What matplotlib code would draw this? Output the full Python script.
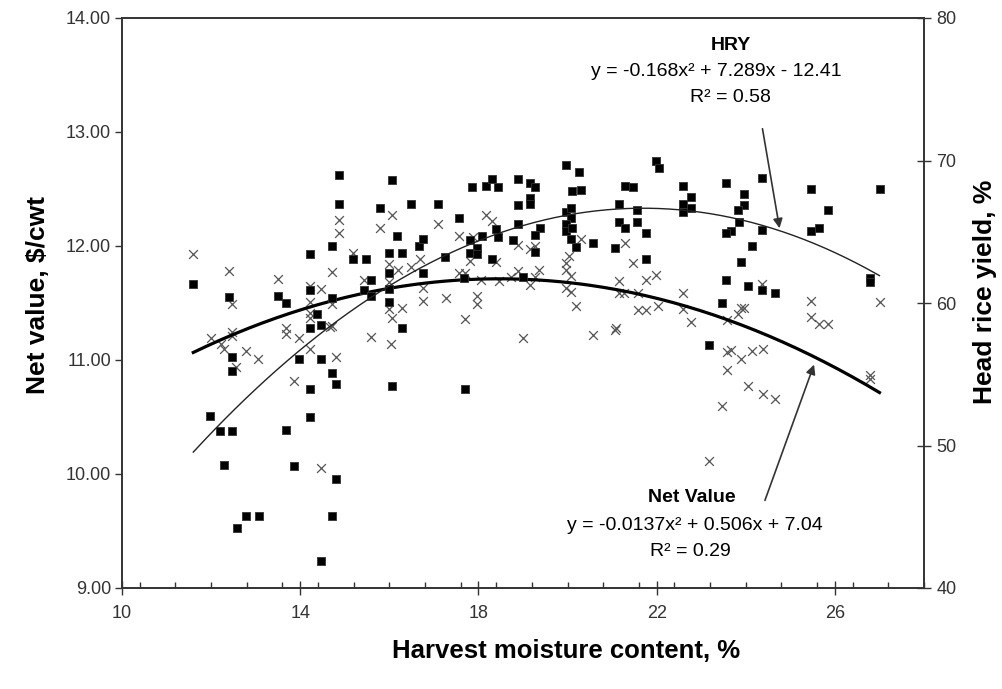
import numpy as np
import matplotlib
matplotlib.use("Agg")
import matplotlib.pyplot as plt
from matplotlib.ticker import MultipleLocator, FormatStrFormatter

plt.rcParams['font.family'] = ['Liberation Sans', 'DejaVu Sans']

# head rice yield points (%), drawn as filled squares on the right axis
hry_x = [11.59, 14.21, 12.41, 13.51, 13.69, 14.21, 14.37, 14.47, 14.21, 12.47,
         13.98, 14.47, 12.47, 14.21, 11.98, 12.19, 12.47, 13.69, 14.21, 12.30,
         13.87, 12.79, 13.07, 12.58, 14.47, 14.87, 16.06, 14.87, 15.79, 16.49,
         17.09, 17.57, 17.86, 18.17, 18.30, 18.45, 18.39, 17.80, 18.07, 18.45,
         17.97, 17.80, 17.97, 18.30, 17.26, 16.66, 16.76, 16.17, 16.00, 16.28,
         16.00, 16.76, 16.00, 16.00, 16.28, 14.71, 15.18, 15.48, 15.58, 15.43,
         15.58, 14.71, 17.68, 14.71, 14.81, 16.06, 17.70, 14.81, 14.71, 18.89,
         19.16, 19.28, 19.96, 20.26, 20.09, 20.31, 21.98, 22.06, 21.29, 21.46,
         22.58, 22.77, 19.16, 18.89, 19.16, 19.96, 20.08, 20.08, 19.96, 19.96,
         20.09, 21.16, 21.56, 22.58, 22.77, 22.58, 21.16, 21.29, 21.56, 21.77,
         18.89, 19.39, 19.28, 18.77, 20.19, 20.56, 21.06, 19.28, 21.77, 18.99,
         20.08, 23.55, 24.37, 23.95, 23.95, 23.83, 23.85, 23.66, 23.55, 24.37,
         24.15, 23.90, 23.55, 24.05, 24.37, 24.65, 23.46, 25.47, 25.85, 25.47,
         25.64, 27.01, 26.78, 26.78, 23.17]
hry_y = [61.36, 63.44, 60.40, 60.48, 60.00, 60.88, 59.20, 58.48, 58.24, 56.24,
         56.08, 56.08, 55.20, 54.00, 52.08, 51.04, 51.04, 51.12, 52.00, 48.64,
         48.56, 45.04, 45.04, 44.24, 41.92, 68.96, 68.64, 66.96, 66.64, 66.96,
         66.96, 66.00, 68.16, 68.24, 68.72, 68.16, 65.20, 64.40, 64.72, 64.64,
         63.84, 63.52, 63.44, 63.12, 63.20, 64.00, 64.48, 64.72, 63.52, 63.52,
         62.08, 62.08, 60.96, 60.08, 58.24, 64.00, 63.12, 63.12, 61.60, 60.88,
         60.48, 60.32, 61.76, 55.12, 54.32, 54.16, 54.00, 47.68, 45.04, 68.72,
         68.40, 68.16, 69.68, 69.20, 67.84, 67.92, 70.00, 69.44, 68.24, 68.16,
         68.24, 67.44, 67.36, 66.88, 66.96, 66.40, 66.64, 66.00, 65.52, 65.04,
         65.28, 66.96, 66.56, 66.96, 66.64, 66.40, 65.68, 65.28, 65.68, 64.88,
         65.52, 65.28, 64.80, 64.40, 63.92, 64.24, 63.84, 63.60, 63.12, 61.84,
         64.48, 68.40, 68.80, 67.68, 66.88, 66.56, 65.68, 65.04, 64.88, 65.12,
         64.00, 62.88, 61.60, 61.20, 60.88, 60.72, 60.00, 68.00, 66.56, 65.04,
         65.28, 68.00, 61.76, 61.44, 57.04]

# net value points ($/cwt), drawn as x marks on the left axis
nv_x = [11.59, 12.41, 13.51, 12.47, 14.21, 14.47, 14.21, 14.21, 14.21, 13.69,
        13.69, 13.98, 11.99, 12.47, 12.47, 12.23, 12.28, 12.79, 13.06, 14.21,
        12.56, 13.87, 14.47, 14.87, 14.87, 16.06, 15.79, 17.09, 18.17, 18.30,
        17.57, 17.87, 17.80, 18.39, 16.68, 16.49, 16.00, 16.19, 16.76, 16.76,
        17.27, 16.00, 16.00, 16.28, 16.06, 14.71, 15.18, 15.43, 14.71, 14.66,
        17.70, 17.97, 17.97, 17.70, 18.47, 18.06, 18.73, 17.57, 14.71, 15.58,
        16.03, 14.81, 18.89, 19.16, 19.26, 20.31, 21.29, 20.04, 19.96, 21.46,
        18.89, 19.36, 19.26, 19.16, 19.96, 20.08, 21.16, 21.76, 21.98, 19.96,
        20.08, 21.16, 21.27, 21.57, 22.58, 20.19, 21.57, 21.77, 22.03, 22.58,
        22.77, 21.09, 18.99, 20.56, 21.06, 24.37, 25.47, 27.01, 23.89, 23.96,
        23.83, 23.57, 25.46, 25.64, 25.85, 23.57, 23.66, 23.90, 24.15, 24.39,
        23.57, 24.06, 24.39, 24.65, 23.46, 23.17, 26.78, 26.78]
nv_y = [11.93, 11.78, 11.71, 11.49, 11.65, 11.62, 11.51, 11.41, 11.37, 11.28,
        11.23, 11.19, 11.19, 11.25, 11.21, 11.14, 11.10, 11.08, 11.01, 11.10,
        10.94, 10.82, 10.05, 12.23, 12.11, 12.27, 12.16, 12.19, 12.27, 12.22,
        12.09, 12.08, 11.87, 11.86, 11.89, 11.82, 11.84, 11.79, 11.63, 11.52,
        11.54, 11.68, 11.45, 11.46, 11.37, 11.77, 11.94, 11.70, 11.49, 11.29,
        11.36, 11.56, 11.49, 11.76, 11.69, 11.70, 11.73, 11.76, 11.30, 11.20,
        11.14, 11.03, 12.01, 11.97, 12.00, 12.06, 12.03, 11.91, 11.85, 11.85,
        11.78, 11.79, 11.73, 11.66, 11.79, 11.74, 11.69, 11.70, 11.75, 11.63,
        11.60, 11.59, 11.59, 11.59, 11.59, 11.47, 11.44, 11.44, 11.47, 11.45,
        11.33, 11.28, 11.19, 11.22, 11.26, 11.67, 11.52, 11.51, 11.46, 11.46,
        11.40, 11.35, 11.38, 11.32, 11.32, 11.07, 11.09, 11.01, 11.08, 11.10,
        10.91, 10.77, 10.70, 10.66, 10.60, 10.11, 10.83, 10.87]

# trendline coefficients (from the chart labels)
hry_fit = [-0.168, 7.289, -12.41]
nv_fit = [-0.0137, 0.506, 7.04]
fit_range = [11.6, 27.0]

W, H = 1002, 689
fig = plt.figure(figsize=(W / 100, H / 100), dpi=100)
ax = fig.add_axes([122 / W, 1 - 588 / H, 802 / W, 570 / H])
ax2 = ax.twinx()

xs = np.linspace(fit_range[0], fit_range[1], 200)
ax.scatter(nv_x, nv_y, marker='x', s=40, linewidths=0.9, color='#555555', zorder=3)
ax2.scatter(hry_x, hry_y, marker='s', s=40, color='black', edgecolors='#333333',
            linewidths=0.6, zorder=3)
ax.plot(xs, np.polyval(nv_fit, xs), color='black', lw=2.3, zorder=4)
ax2.plot(xs, np.polyval(hry_fit, xs), color='#222222', lw=1.0, zorder=4)

ax.set_xlim(10, 28)
ax.set_ylim(9, 14)
ax2.set_ylim(40, 80)
ax.set_xticks([10, 14, 18, 22, 26])
ax.xaxis.set_minor_locator(MultipleLocator(0.8))
ax.yaxis.set_major_locator(MultipleLocator(1))
ax.yaxis.set_major_formatter(FormatStrFormatter('%.2f'))
ax2.yaxis.set_major_locator(MultipleLocator(10))

ax.tick_params(axis='x', which='major', direction='inout', length=10, width=1,
               labelsize=13, pad=7, colors='#333333')
ax.tick_params(axis='x', which='minor', direction='in', length=4, width=1, color='#333333')
ax.tick_params(axis='y', direction='out', length=5, width=1, labelsize=13, pad=3,
               colors='#333333')
ax2.tick_params(axis='y', direction='inout', length=10, width=1, labelsize=13, pad=4,
                colors='#333333')
for a in (ax, ax2):
    for sp in a.spines.values():
        sp.set_color('#333333')
        sp.set_linewidth(1.2)

fig.text(38 / W, 1 - 295 / H, 'Net value, $/cwt', rotation=90, ha='center', va='center',
         fontsize=19, fontweight='bold')
fig.text(985 / W, 1 - 292 / H, 'Head rice yield, %', rotation=90, ha='center', va='center',
         fontsize=19, fontweight='bold')
fig.text(566 / W, 1 - 651 / H, 'Harvest moisture content, %', ha='center', va='center',
         fontsize=18.5, fontweight='bold')

# trendline labels
fig.text(731 / W, 1 - 46 / H, 'HRY', ha='center', va='center', fontsize=14, fontweight='bold')
fig.text(716 / W, 1 - 72 / H, 'y = -0.168x² + 7.289x - 12.41', ha='center', va='center', fontsize=14)
fig.text(730 / W, 1 - 97 / H, 'R² = 0.58', ha='center', va='center', fontsize=14)
fig.text(692 / W, 1 - 498 / H, 'Net Value', ha='center', va='center', fontsize=14, fontweight='bold')
fig.text(695 / W, 1 - 525 / H, 'y = -0.0137x² + 0.506x + 7.04', ha='center', va='center', fontsize=14)
fig.text(690 / W, 1 - 551 / H, 'R² = 0.29', ha='center', va='center', fontsize=14)

arrow = dict(arrowstyle='-|>', color='#333333', lw=1.2, mutation_scale=14)
fig.patches.append(matplotlib.patches.FancyArrowPatch(
    (762 / W, 1 - 126 / H), (780 / W, 1 - 231 / H), transform=fig.transFigure, **arrow))
fig.patches.append(matplotlib.patches.FancyArrowPatch(
    (764 / W, 1 - 503 / H), (815 / W, 1 - 362 / H), transform=fig.transFigure, **arrow))

fig.savefig('out.png', dpi=100)
